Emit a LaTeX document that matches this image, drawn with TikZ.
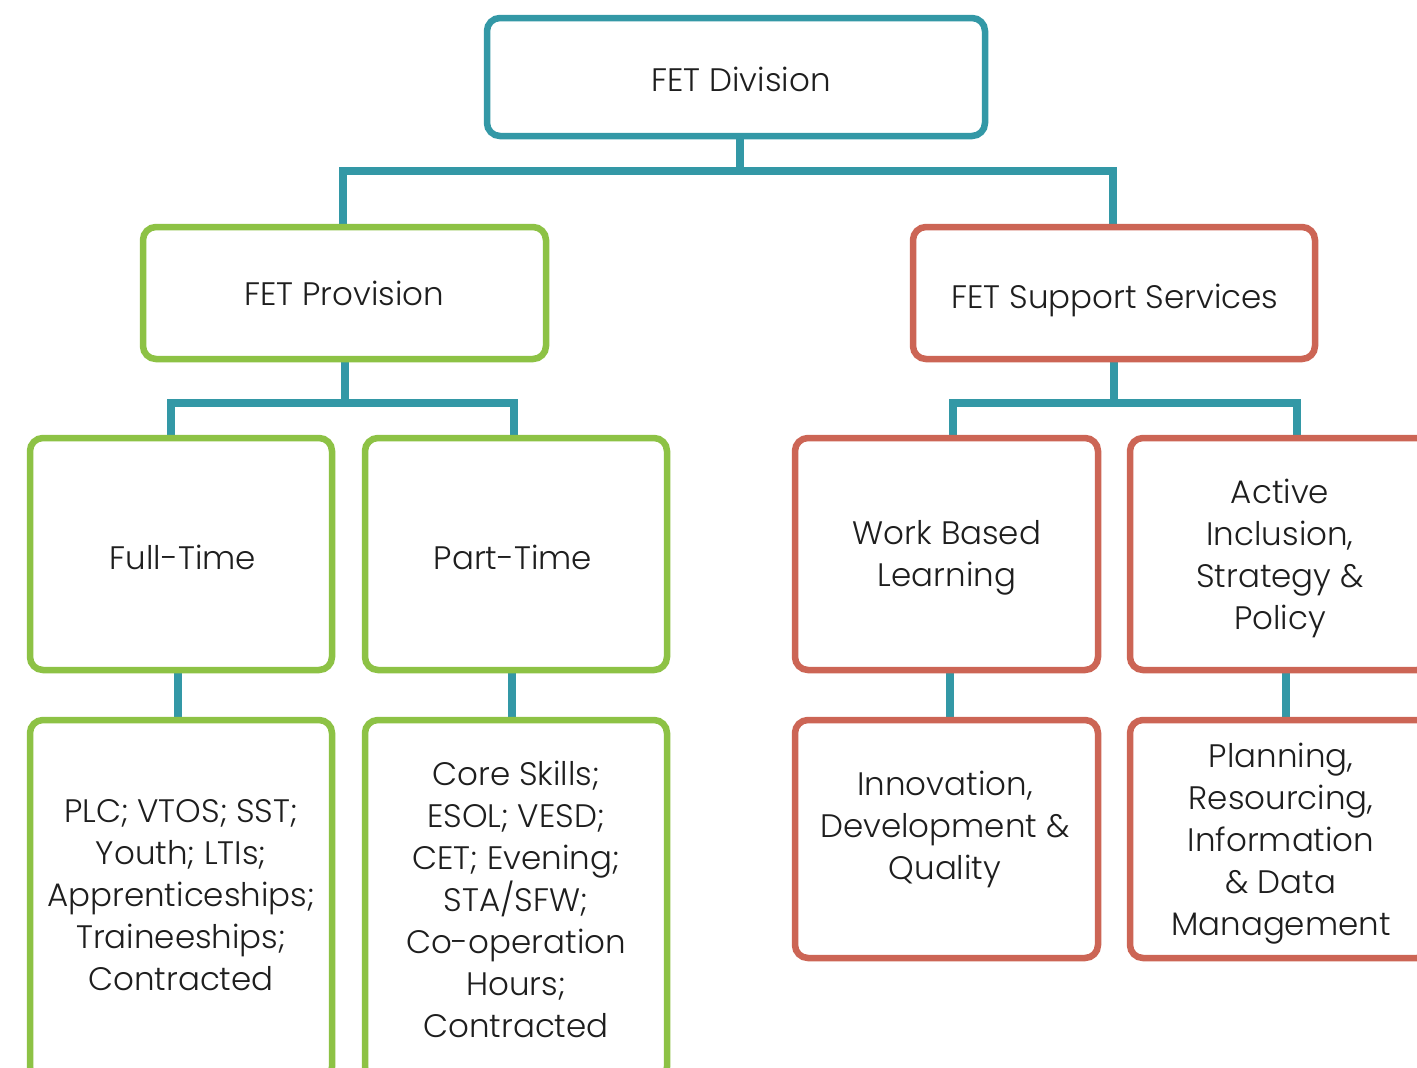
\documentclass[tikz,border=0pt]{standalone}
\usepackage{fontspec}
\setmainfont{Poppins}[UprightFont=* Light]
\usetikzlibrary{backgrounds}
\definecolor{teal}{HTML}{3398A6}
\definecolor{leaf}{HTML}{8DC245}
\definecolor{brick}{HTML}{CC6555}
\definecolor{ink}{HTML}{1E1E1E}
\tikzset{
  box/.style={draw, line width=6.5pt, rounded corners=13pt, fill=white, minimum width=#1, outer sep=0pt, inner sep=0pt},
  conn/.style={draw=teal, line width=8pt, line join=miter},
  txt/.style={text=ink, align=center, font=\fontsize{32.5}{42}\selectfont, inner sep=0pt}
}
\begin{document}
\begin{tikzpicture}[x=1pt, y=-1pt]
\useasboundingbox (0,0) rectangle (1417,1068);
\clip (0,0) rectangle (1417,1068);
% boxes
\node[box=498pt, draw=teal, minimum height=118pt] (div) at (736,77) {};
\node[box=403pt, draw=leaf, minimum height=132pt] (prov) at (344.5,293) {};
\node[box=402pt, draw=brick, minimum height=132pt] (supp) at (1114,293) {};
\node[box=302pt, draw=leaf, minimum height=232pt] (ft) at (181,554) {};
\node[box=302pt, draw=leaf, minimum height=232pt] (pt) at (516,554) {};
\node[box=303pt, draw=brick, minimum height=232pt] (wbl) at (946.5,554) {};
\node[box=300pt, draw=brick, minimum height=232pt] (ai) at (1280,554) {};
\node[box=302pt, draw=leaf, minimum height=360pt] (plc) at (181,900) {};
\node[box=302pt, draw=leaf, minimum height=360pt] (core) at (516,900) {};
\node[box=303pt, draw=brick, minimum height=238pt] (innov) at (946.5,839) {};
\node[box=300pt, draw=brick, minimum height=238pt] (plan) at (1280,839) {};
% texts
\node[txt] (divT) at (741,79) {FET Division};
\node[txt] (provT) at (344,293) {FET Provision};
\node[txt] (suppT) at (1115,300) {FET Support Services};
\node[txt] (ftT) at (183,557) {Full-Time};
\node[txt] (ptT) at (513,557) {Part-Time};
\node[txt] (wblT) at (947,558) {Work Based\\Learning};
\node[txt] (aiT) at (1280,558) {Active\\Inclusion,\\Strategy \&\\Policy};
\node[txt] (plcT) at (181,895) {PLC; VTOS; SST;\\Youth; LTIs;\\Apprenticeships;\\Traineeships;\\Contracted};
\node[txt] (coreT) at (516,899) {Core Skills;\\ESOL; VESD;\\CET; Evening;\\STA/SFW;\\Co-operation\\Hours;\\Contracted};
\node[txt] (innovT) at (945,829) {Innovation,\\Development \&\\Quality};
\node[txt] (planT) at (1281,844) {Planning,\\Resourcing,\\Information\\\& Data\\Management};
% connectors
\begin{scope}[on background layer]
\draw[conn] ([xshift=4pt]div.south) -- ([xshift=4pt]div.south |- 0,171) coordinate (divJ);
\draw[conn] ([xshift=-1.5pt]prov.north) |- (divJ) -| ([xshift=-1pt]supp.north);
\draw[conn] (prov.south) -- (prov.south |- 0,403) coordinate (provJ);
\draw[conn] ([xshift=-10pt]ft.north) |- (provJ) -| ([xshift=-2pt]pt.north);
\draw[conn] (supp.south) -- (supp.south |- 0,403) coordinate (suppJ);
\draw[conn] ([xshift=6.5pt]wbl.north) |- (suppJ) -| ([xshift=17pt]ai.north);
\draw[conn] ([xshift=-3pt]ft.south) -- ([xshift=-3pt]plc.north);
\draw[conn] ([xshift=-4pt]pt.south) -- ([xshift=-4pt]core.north);
\draw[conn] ([xshift=3.5pt]wbl.south) -- ([xshift=3.5pt]innov.north);
\draw[conn] ([xshift=6pt]ai.south) -- ([xshift=6pt]plan.north);
\end{scope}
\end{tikzpicture}
\end{document}
